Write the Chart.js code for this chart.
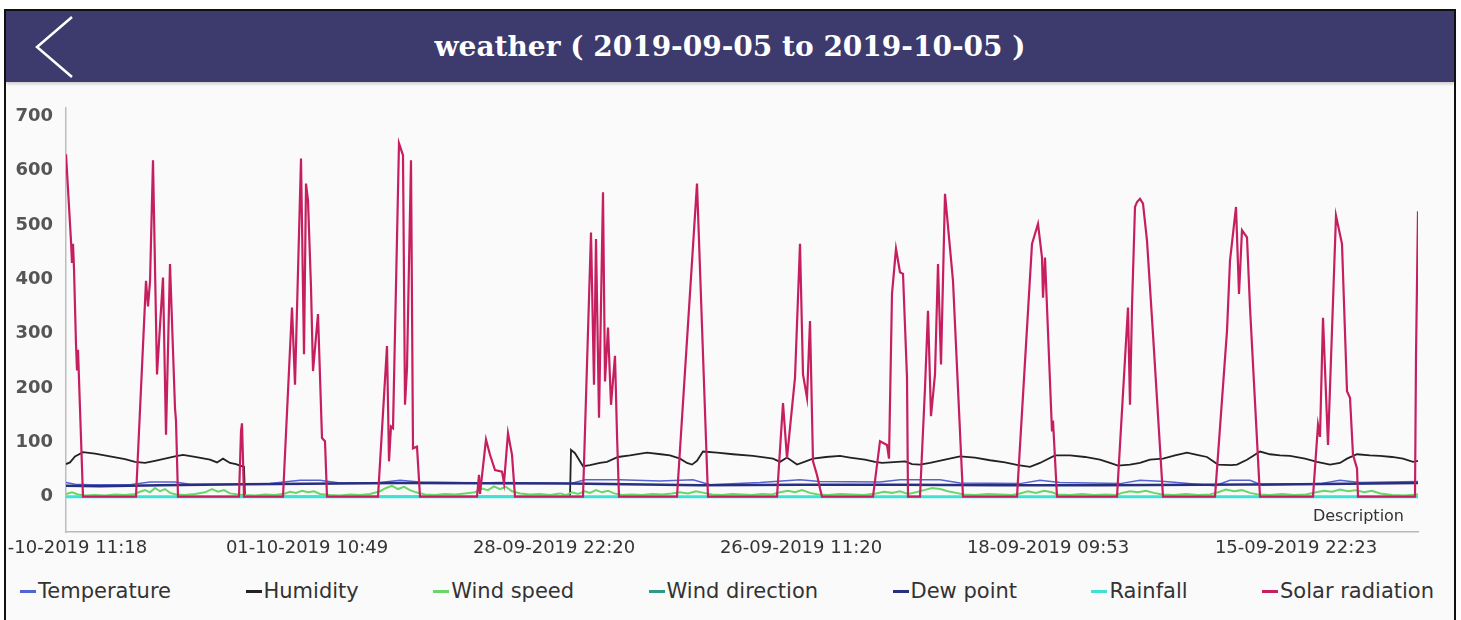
<!DOCTYPE html>
<html>
<head>
<meta charset="utf-8">
<title>weather</title>
<script src="https://cdn.jsdelivr.net/npm/chart.js"></script>
<style>
  html, body { margin: 0; padding: 0; background: #fff; }
  body { width: 1461px; height: 620px; overflow: hidden; position: relative; font-family: "DejaVu Sans", sans-serif; }
  #frame {
    position: absolute; left: 4px; top: 9px; width: 1448px; height: 640px;
    border: 2px solid #111; border-bottom: none; background: #fafafa;
  }
  #header {
    position: absolute; left: 6px; top: 11px; width: 1448px; height: 71px;
    background: #3d3a6d; color: #fff; box-shadow: 0 2px 3px rgba(0,0,0,0.18);
    display: flex; align-items: center; justify-content: center;
  }
  #header h1 {
    margin: 0; font-family: "DejaVu Serif", serif; font-weight: bold; font-size: 28px;
    color: #fff;
  }
  #back { position: absolute; left: 0; top: 0; }
  #chartWrap { position: absolute; left: 6px; top: 84px; width: 1447px; height: 490px; }
  #legend {
    position: absolute; left: 20px; top: 579px; width: 1414px; height: 24px;
    display: flex; justify-content: space-between; align-items: center;
    font-family: "DejaVu Sans", sans-serif; font-size: 21px; color: #333;
  }
  #legend .item { display: flex; align-items: center; white-space: nowrap; }
  #legend .dash { width: 16px; height: 3px; margin-right: 2px; }
</style>
</head>
<body>
<div id="frame"></div>
<div id="header">
  <svg id="back" width="90" height="71">
    <polyline points="66,6 31,36 66,66" fill="none" stroke="#fff" stroke-width="2.5"/>
  </svg>
  <h1>weather ( 2019-09-05 to 2019-10-05 )</h1>
</div>
<div id="chartWrap"><canvas id="weather" width="1447" height="490"></canvas></div>
<div id="legend"></div>

<script>
// x = record index, y = value
const tickPositions = [0, 241, 488, 735, 982, 1230];
const tickLabels = ['05-10-2019 11:18', '01-10-2019 10:49', '28-09-2019 22:20',
                    '26-09-2019 11:20', '18-09-2019 09:53', '15-09-2019 22:23'];

const temperature = [[0,26],[9,23],[24,22],[64,22],[84,27],[109,27],[124,23],[174,23],[204,24],
  [234,30],[254,30],[274,25],[314,26],[334,30],[354,27],[414,25],[434,26],[474,25],[504,24],
  [519,31],[554,31],[594,29],[627,31],[644,22],[694,26],[734,31],[754,28],[814,27],[834,31],
  [874,31],[894,25],[954,24],[974,30],[994,26],[1054,24],[1074,30],[1099,28],[1149,20],
  [1164,30],[1184,30],[1196,21],[1254,24],[1274,30],[1294,26],[1352,28]];

const humidity = [[0,60],[4,63],[9,74],[17,82],[29,79],[44,74],[59,69],[69,64],[79,62],[89,66],
  [99,70],[109,74],[117,77],[129,73],[144,68],[151,63],[157,70],[164,62],[170,60],[174,57],
  [178,55],[179,0],[504,0],[505,86],[509,80],[517,56],[524,58],[534,62],[541,64],[552,73],
  [564,76],[581,81],[595,78],[604,76],[614,70],[621,62],[626,59],[631,66],[637,83],[651,81],
  [667,78],[687,75],[700,72],[707,70],[714,64],[721,72],[731,59],[741,66],[747,70],[760,73],
  [774,75],[784,72],[799,68],[809,64],[816,62],[824,63],[839,65],[846,60],[854,59],[864,62],
  [879,68],[894,74],[909,72],[924,67],[939,63],[952,58],[964,55],[974,62],[989,76],[1004,76],
  [1019,73],[1034,68],[1044,62],[1052,57],[1064,59],[1074,62],[1084,68],[1097,70],[1109,76],
  [1121,81],[1131,77],[1141,73],[1152,59],[1165,58],[1171,59],[1181,68],[1194,83],[1204,78],
  [1214,76],[1224,75],[1239,70],[1251,64],[1264,59],[1274,62],[1281,70],[1291,78],[1304,76],
  [1314,75],[1326,73],[1337,70],[1347,64],[1352,66]];

const windSpeed = [[0,5],[6,8],[12,4],[19,2],[29,3],[39,2],[49,4],[59,3],[69,5],[74,9],[79,12],
  [84,8],[89,16],[94,10],[99,14],[104,7],[110,4],[119,3],[129,5],[139,8],[146,14],[152,9],
  [158,12],[164,6],[172,4],[179,3],[189,2],[199,4],[209,3],[219,6],[224,9],[230,7],[236,11],
  [242,8],[248,10],[254,5],[264,3],[274,2],[284,4],[294,3],[304,5],[314,10],[320,16],[326,20],
  [332,14],[338,18],[344,12],[350,8],[359,4],[369,3],[379,5],[389,4],[399,6],[409,8],[416,15],
  [422,12],[428,19],[434,14],[440,18],[446,10],[454,6],[464,4],[474,5],[484,3],[494,6],[500,3],
  [506,8],[512,5],[519,10],[524,7],[530,12],[536,8],[542,11],[548,6],[556,3],[566,4],[576,3],
  [586,5],[596,4],[606,6],[614,8],[622,6],[630,10],[638,7],[646,4],[656,3],[666,5],[676,4],
  [686,3],[696,5],[706,4],[714,8],[722,11],[729,8],[736,12],[744,7],[752,4],[762,3],[774,5],
  [786,4],[798,3],[810,6],[818,9],[826,7],[834,10],[842,5],[850,8],[858,12],[866,16],[874,14],
  [882,10],[890,7],[898,4],[909,3],[922,5],[934,4],[946,3],[954,6],[962,10],[970,7],[978,11],
  [986,8],[992,4],[1004,3],[1016,5],[1028,3],[1040,4],[1050,3],[1056,7],[1064,10],[1072,8],
  [1080,11],[1088,7],[1096,4],[1108,3],[1120,5],[1132,3],[1144,4],[1152,8],[1160,13],[1168,10],
  [1176,12],[1184,7],[1192,4],[1204,3],[1216,5],[1228,3],[1240,4],[1250,8],[1258,11],[1266,9],
  [1274,13],[1282,10],[1290,12],[1298,8],[1306,11],[1314,6],[1326,3],[1338,2],[1352,4]];

const windDirection = [[0,0],[1352,0]];

const dewPoint = [[0,20],[34,19],[94,21],[179,23],[334,25],[504,24],[634,21],[734,22],[834,22],
  [934,21],[1034,21],[1134,22],[1234,23],[1352,25]];

const rainfall = [[0,0],[1352,0]];

const solarRadiation = [[0,630],[5,470],[6,430],[7,465],[8,420],[10,280],[11,232],[12,270],[17,0],
  [70,0],[80,397],[82,350],[84,395],[87,619],[91,225],[97,403],[100,114],[104,428],[109,163],
  [110,140],[112,0],[173,0],[175,120],[176,135],[178,0],[217,0],[226,348],[229,206],[235,622],
  [238,262],[240,576],[242,545],[245,385],[247,231],[252,336],[256,108],[259,102],[261,0],
  [312,0],[321,277],[323,65],[325,129],[327,126],[333,650],[337,628],[339,169],[341,237],
  [345,619],[347,89],[351,92],[354,0],[411,0],[413,40],[414,5],[420,105],[424,77],[429,49],
  [436,46],[438,25],[442,117],[446,77],[449,0],[517,0],[525,486],[528,206],[530,474],[533,145],
  [537,560],[539,212],[542,311],[545,169],[549,259],[551,114],[553,0],[611,0],[631,576],[642,0],
  [711,0],[717,172],[721,71],[729,219],[734,465],[737,225],[741,182],[744,323],[747,65],[751,40],
  [754,15],[756,0],[807,0],[814,102],[821,95],[823,70],[826,373],[830,456],[834,413],[837,410],
  [841,219],[842,0],[854,0],[859,200],[862,342],[865,148],[869,225],[872,428],[875,243],
  [879,557],[887,397],[897,0],[951,0],[966,465],[972,502],[976,440],[977,366],[979,440],
  [986,120],[987,140],[991,0],[1051,0],[1062,348],[1064,169],[1066,350],[1069,533],[1071,542],
  [1074,548],[1077,539],[1081,471],[1087,299],[1097,0],[1149,0],[1161,305],[1164,434],
  [1170,533],[1173,373],[1176,490],[1181,477],[1184,348],[1194,0],[1247,0],[1252,132],
  [1254,110],[1257,329],[1262,95],[1270,517],[1276,465],[1281,194],[1284,182],[1287,77],
  [1291,52],[1292,0],[1349,0],[1350,258],[1352,525]];

const seriesNames = ['Temperature', 'Humidity', 'Wind speed', 'Wind direction', 'Dew point', 'Rainfall', 'Solar radiation'];
const seriesData = [temperature, humidity, windSpeed, windDirection, dewPoint, rainfall, solarRadiation];
const seriesColors = ['#5463cf', '#222222', '#66d86a', '#2e9a86', '#27307e', '#3fe0d6', '#c61f5f'];
const seriesWidths = [1.5, 1.8, 2, 1.5, 2.5, 3, 2.2];

// MPAndroidChart draws the last dataset on top; Chart.js draws lowest "order" on top
const datasets = seriesNames.map((name, i) => ({
    label: name,
    data: seriesData[i],
    borderColor: seriesColors[i],
    backgroundColor: seriesColors[i],
    borderWidth: seriesWidths[i],
    pointRadius: 0,
    tension: 0,
    fill: false,
    order: seriesNames.length - 1 - i
}));

const descriptionPlugin = {
    id: 'description',
    afterDraw(chart) {
        const {ctx, chartArea} = chart;
        ctx.save();
        ctx.font = '16px "DejaVu Sans"';
        ctx.fillStyle = '#333';
        ctx.textAlign = 'right';
        ctx.textBaseline = 'middle';
        ctx.fillText('Description', chartArea.right - 14, chartArea.bottom - 15);
        ctx.restore();
    }
};

// no extra room for the first/last tick label: the first date is cut off at the left edge
function noLabelPadding(scale) {
    scale.paddingLeft = 0;
    scale.paddingRight = 0;
    scale.paddingTop = 0;
    scale.paddingBottom = 0;
}

const ctx = document.getElementById('weather').getContext('2d');
const weatherChart = new Chart(ctx, {
    type: 'line',
    data: { datasets: datasets },
    options: {
        responsive: false,
        animation: false,
        layout: {
            autoPadding: false,
            padding: { left: 0, right: 35, top: 24, bottom: 0 }
        },
        plugins: {
            legend: { display: false },
            tooltip: { enabled: false }
        },
        scales: {
            x: {
                type: 'linear',
                min: 0,
                max: 1352,
                grid: { display: false, drawTicks: false },
                border: { color: '#b8b8b8', width: 1.5 },
                afterBuildTicks: (scale) => {
                    scale.ticks = tickPositions.map(v => ({ value: v }));
                },
                afterFit: (scale) => { scale.height = 42; noLabelPadding(scale); },
                ticks: {
                    autoSkip: false,
                    maxRotation: 0,
                    padding: 6,
                    color: '#333',
                    font: { family: 'DejaVu Sans', size: 18 },
                    callback: (value, index) => tickLabels[index]
                }
            },
            y: {
                min: -65,
                max: 715,
                grid: { display: false, drawTicks: false },
                border: { color: '#bdbdbd', width: 1.5 },
                afterFit: (scale) => { scale.width = 60; noLabelPadding(scale); },
                ticks: {
                    stepSize: 100,
                    includeBounds: false,
                    padding: 13,
                    color: '#555',
                    font: { family: 'DejaVu Sans', size: 18, weight: 'bold' }
                }
            }
        }
    },
    plugins: [descriptionPlugin]
});

// legend row below the chart, built from the datasets
const legendBox = document.getElementById('legend');
weatherChart.data.datasets.forEach((ds) => {
    const item = document.createElement('div');
    item.className = 'item';
    const dash = document.createElement('span');
    dash.className = 'dash';
    dash.style.background = ds.borderColor;
    const text = document.createElement('span');
    text.textContent = ds.label;
    item.appendChild(dash);
    item.appendChild(text);
    legendBox.appendChild(item);
});
</script>
</body>
</html>
